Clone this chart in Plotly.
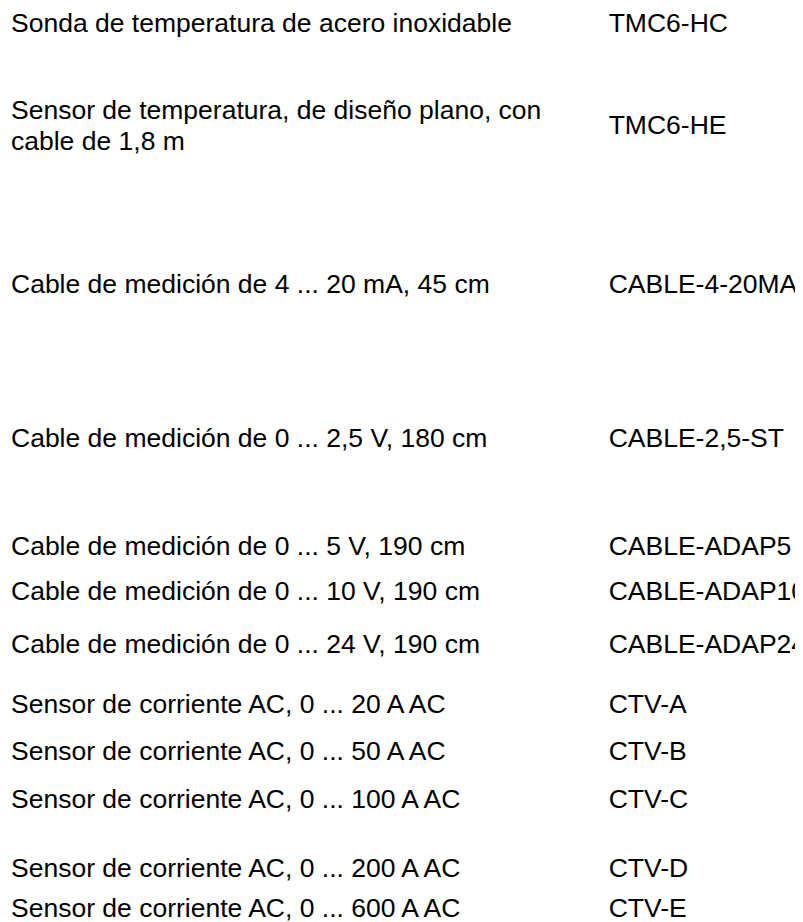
import plotly.graph_objects as go

# ---- data ----
descriptions = [
    "Sonda de temperatura de acero inoxidable",
    "Sensor de temperatura, de diseño plano, con<br>cable de 1,8 m",
    "Cable de medición de 4 ... 20 mA, 45 cm",
    "Cable de medición de 0 ... 2,5 V, 180 cm",
    "Cable de medición de 0 ... 5 V, 190 cm",
    "Cable de medición de 0 ... 10 V, 190 cm",
    "Cable de medición de 0 ... 24 V, 190 cm",
    "Sensor de corriente AC, 0 ... 20 A AC",
    "Sensor de corriente AC, 0 ... 50 A AC",
    "Sensor de corriente AC, 0 ... 100 A AC",
    "Sensor de corriente AC, 0 ... 200 A AC",
    "Sensor de corriente AC, 0 ... 600 A AC",
]
codes = [
    "TMC6-HC",
    "TMC6-HE",
    "CABLE-4-20MA",
    "CABLE-2,5-ST",
    "CABLE-ADAP5",
    "CABLE-ADAP10",
    "CABLE-ADAP24",
    "CTV-A",
    "CTV-B",
    "CTV-C",
    "CTV-D",
    "CTV-E",
]

# ---- layout (row anchor positions, in page pixels from the top-left) ----
row_y = [25.7, 127.5, 286.7, 440, 548.4, 593.4, 646, 706.7, 753.4, 801, 870, 910]
col_x = [11, 608.7]
LINE_PITCH = 31.0  # spacing of wrapped description lines

PAGE_W, PAGE_H = 803, 922
BODY_MARGIN = 8  # default page margin around the plot div
W, H = PAGE_W - BODY_MARGIN, PAGE_H - BODY_MARGIN

font = dict(family="Liberation Sans, Arial, sans-serif", size=26.5, color="#000000")

# split wrapped descriptions into individual lines around each row's centre
desc_x, desc_y, desc_t = [], [], []
for yc, d in zip(row_y, descriptions):
    lines = d.split("<br>")
    n = len(lines)
    for i, ln in enumerate(lines):
        desc_x.append(col_x[0])
        desc_y.append(yc + (i - (n - 1) / 2) * LINE_PITCH)
        desc_t.append(ln)

fig = go.Figure()
fig.add_trace(go.Scatter(
    x=desc_x, y=desc_y, text=desc_t,
    mode="text", textposition="middle right", textfont=font,
    hoverinfo="skip", showlegend=False,
))
fig.add_trace(go.Scatter(
    x=[col_x[1]] * len(codes), y=row_y, text=codes,
    mode="text", textposition="middle right", textfont=font,
    hoverinfo="skip", showlegend=False,
))

fig.update_layout(
    width=W, height=H,
    margin=dict(l=0, r=0, t=0, b=0),
    paper_bgcolor="white", plot_bgcolor="white",
    xaxis=dict(range=[BODY_MARGIN, PAGE_W], visible=False, fixedrange=True),
    yaxis=dict(range=[PAGE_H, BODY_MARGIN], visible=False, fixedrange=True),
)

fig.write_html("out.html")
